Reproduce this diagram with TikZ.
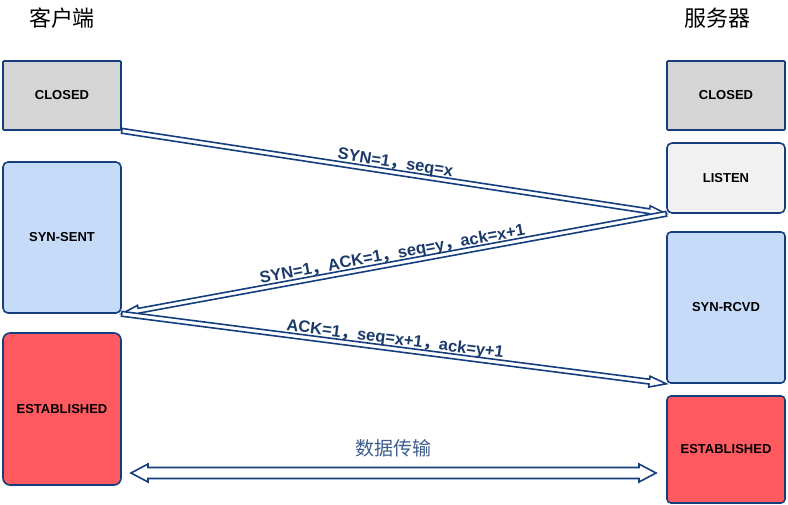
\documentclass[tikz,border=0pt]{standalone}
\usepackage{fontspec}
\setmainfont{Liberation Sans}
\newfontfamily\cjk{Noto Sans CJK SC}
\usetikzlibrary{calc}
\definecolor{navy}{HTML}{153E7E}
\definecolor{lbltxt}{HTML}{1B3A6B}
\definecolor{boxgray}{HTML}{D5D5D5}
\definecolor{boxlight}{HTML}{F1F1F1}
\definecolor{boxblue}{HTML}{C6DBF8}
\definecolor{boxred}{HTML}{FF5A5F}
\definecolor{datatxt}{HTML}{3C5C8C}
\newcommand\fwc{{\cjk ，}}
% id, start, end, shaft half width, head half width, head length
\newcommand\flexarrow[6]{%
  \coordinate (#1s) at (#2);
  \coordinate (#1e) at (#3);
  \coordinate (#1h) at ($(#1e)!#6!(#1s)$);
  \draw[arrowshape] ($(#1s)!#4!90:(#1e)$) -- ($(#1h)!#4!90:(#1e)$) -- ($(#1h)!#5!90:(#1e)$) -- (#1e)
    -- ($(#1h)!#5!-90:(#1e)$) -- ($(#1h)!#4!-90:(#1e)$) -- ($(#1s)!#4!-90:(#1e)$) -- cycle;
}
\newcommand\flexdarrow[6]{%
  \coordinate (#1s) at (#2);
  \coordinate (#1e) at (#3);
  \coordinate (#1h) at ($(#1e)!#6!(#1s)$);
  \coordinate (#1t) at ($(#1s)!#6!(#1e)$);
  \draw[arrowshape] (#1s) -- ($(#1t)!#5!90:(#1e)$) -- ($(#1t)!#4!90:(#1e)$) -- ($(#1h)!#4!90:(#1e)$)
    -- ($(#1h)!#5!90:(#1e)$) -- (#1e) -- ($(#1h)!#5!-90:(#1e)$) -- ($(#1h)!#4!-90:(#1e)$)
    -- ($(#1t)!#4!-90:(#1e)$) -- ($(#1t)!#5!-90:(#1e)$) -- cycle;
}
\begin{document}
\begin{tikzpicture}[x=1pt,y=-1pt,
  statebox/.style={draw=navy, line width=1.6pt, minimum width=118pt, inner sep=0pt,
    font=\bfseries\fontsize{13}{15}\selectfont, text=black, rounded corners=5pt},
  arrowshape/.style={draw=navy, fill=white, line width=1.6pt, line join=miter},
  msg/.style={font=\bfseries\fontsize{16.5}{18}\selectfont, text=lbltxt, sloped, above, inner sep=1pt, midway},
  title/.style={font=\cjk\fontsize{22}{26}\selectfont, text=black}]
\useasboundingbox (0,0) rectangle (788,504);

\node[title] (tc) at (62,18) {客户端};
\node[title] (ts) at (717,18) {服务器};

\node[statebox, fill=boxgray, minimum height=69pt, rounded corners=1pt] (lclosed) at (62,95.5) {CLOSED};
\node[statebox, fill=boxblue, minimum height=151pt] (synsent) at (62,237.5) {SYN-SENT};
\node[statebox, fill=boxred, minimum height=152pt, rounded corners=7pt] (lest) at (62,409) {ESTABLISHED};

\node[statebox, fill=boxgray, minimum height=69pt, rounded corners=1pt] (rclosed) at (726,95.5) {CLOSED};
\node[statebox, fill=boxlight, minimum height=70pt] (listen) at (726,178) {LISTEN};
\node[statebox, fill=boxblue, minimum height=151pt, rounded corners=4pt] (synrcvd) at (726,307.5) {SYN-RCVD};
\node[statebox, fill=boxred, minimum height=107pt, rounded corners=4pt] (rest) at (726,449.5) {ESTABLISHED};

\flexarrow{a1}{lclosed.south east}{listen.south west}{2.4pt}{5.5pt}{17pt}
\flexarrow{a2}{listen.south west}{synsent.south east}{2.4pt}{5.5pt}{17pt}
\flexarrow{a3}{synsent.south east}{synrcvd.south west}{2.4pt}{5.5pt}{17pt}

\path (lclosed.south east) -- (listen.south west) node[msg] (m1) {SYN=1\fwc seq=x};
\path (synsent.south east) -- (listen.south west) node[msg] (m2) {SYN=1\fwc ACK=1\fwc seq=y\fwc ack=x+1};
\path (synsent.south east) -- (synrcvd.south west) node[msg] (m3) {ACK=1\fwc seq=x+1\fwc ack=y+1};

\coordinate (dl) at (131,473);
\coordinate (dr) at (656,473);
\flexdarrow{d}{dl}{dr}{5.5pt}{9pt}{17pt}
\node[font=\cjk\fontsize{19}{22}\selectfont, text=datatxt] (data) at (393.5,448) {数据传输};
\end{tikzpicture}
\end{document}
